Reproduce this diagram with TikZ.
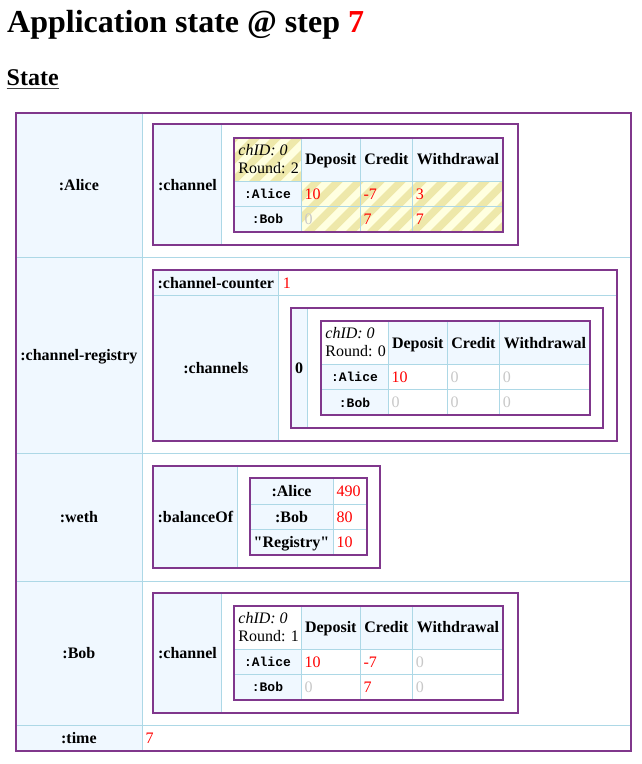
\documentclass[tikz,border=0pt]{standalone}
\usepackage{fontspec}
\setmainfont{Liberation Serif}
\setmonofont{Liberation Mono}
\definecolor{pur}{RGB}{128,55,140}
\definecolor{lb}{RGB}{173,216,230}
\definecolor{ab}{RGB}{240,248,255}
\definecolor{ly}{RGB}{255,255,224}
\definecolor{pg}{RGB}{238,232,170}
\definecolor{zg}{RGB}{200,200,200}
\definecolor{rd}{RGB}{255,0,0}
\tikzset{
 lbl/.style={font=\fontsize{16}{18}\selectfont\bfseries, inner sep=0pt, anchor=base},
 monol/.style={font=\fontsize{13}{15}\selectfont\ttfamily\bfseries, inner sep=0pt, anchor=base},
 redv/.style={font=\fontsize{16}{18}\selectfont, inner sep=0pt, anchor=base west, text=rd},
 greyv/.style={redv, text=zg},
 hdrtxt/.style={font=\fontsize{16}{18}\selectfont, inner sep=0pt, anchor=base west},
 purbox/.style={draw=pur, line width=2pt},
 gridl/.style={draw=lb, line width=1pt},
}
% #1 prefix, #2 x, #3 y, #4 round, #5 hatched, #6 Alice row, #7 Bob row
\newcommand\ChTab[7]{%
 \begin{scope}[shift={(#2,#3)}]
  \fill[ab] (0,0) rectangle (269.6,94.2);
  \fill[white] (0,0) rectangle (67.6,43.6);
  \fill[white] (67.6,43.6) rectangle (269.6,94.2);
  \ifnum#5=1
   \begin{scope}
    \clip (0,0) rectangle (67.6,43.6) (67.6,43.6) rectangle (269.6,94.2);
    \fill[ly] (0,0) rectangle (269.6,94.2);
    \foreach \k in {-120,-99,...,290} \draw[pg, line width=7.5pt] (\k,100) -- ++(120,-120);
   \end{scope}
  \fi
  \draw[gridl] (67.6,0) -- (67.6,94.2) (126.6,0) -- (126.6,94.2) (179,0) -- (179,94.2)
     (0,43.6) -- (269.6,43.6) (0,68.8) -- (269.6,68.8);
  \draw[purbox] (0,0) rectangle (269.6,94.2);
  \node[hdrtxt, font=\fontsize{16}{18}\selectfont\itshape] (#1-id) at (4.5,17.5) {chID: 0};
  \node[hdrtxt] (#1-round) at (4.5,35.8) {Round: #4};
  \node[lbl] (#1-dep) at (97.1,27.2) {Deposit};
  \node[lbl] (#1-cred) at (152.8,27.2) {Credit};
  \node[lbl] (#1-wd) at (224.3,27.2) {Withdrawal};
  \node[monol] (#1-ra) at (33.8,60.8) {:Alice};
  \node[monol] (#1-rb) at (33.8,86.1) {:Bob};
  \foreach \vx/\vs/\vt [count=\i] in {#6} \node[\vs] (#1-a\i) at (\vx,61.6) {\vt};
  \foreach \vx/\vs/\vt [count=\i] in {#7} \node[\vs] (#1-b\i) at (\vx,86.9) {\vt};
 \end{scope}}
\begin{document}
\begin{tikzpicture}[x=1pt,y=-1pt]
\useasboundingbox (0,0) rectangle (642,764);
\fill[white] (0,0) rectangle (642,764);
% headings
\node[anchor=base west, inner sep=0pt, font=\fontsize{32}{36}\selectfont\bfseries] (title) at (7,32.7) {Application state @ step {\color{rd}7}};
\node[anchor=base west, inner sep=0pt, font=\fontsize{24}{28}\selectfont\bfseries] (state) at (6.5,85) {State};
\draw[black!75, line width=1.3pt] ([yshift=-3.4pt]state.base west) -- ([yshift=-3.4pt]state.base east);
% outer table
\fill[ab] (15.8,112.8) rectangle (142,750.5);
\draw[gridl] (142,112.8) -- (142,750.5)
  (15.8,257) -- (630.5,257) (15.8,453.3) -- (630.5,453.3)
  (15.8,581) -- (630.5,581) (15.8,725.3) -- (630.5,725.3);
\draw[purbox] (15.8,112.8) rectangle (630.5,750.5);
\node[lbl] (lAlice) at (78.9,190) {:Alice};
\node[lbl] (lreg) at (78.9,360.5) {:channel-registry};
\node[lbl] (lweth) at (78.9,522.5) {:weth};
\node[lbl] (lBob) at (78.9,658.5) {:Bob};
\node[lbl] (ltime) at (78.9,743.3) {:time};
\node[redv] (vtime) at (145.5,743.3) {7};
% Alice
\fill[ab] (153.3,124.3) rectangle (221.7,245);
\draw[gridl] (221.7,124.3) -- (221.7,245);
\draw[purbox] (153.3,124.3) rectangle (517.7,245);
\node[lbl] (aChan) at (187.5,190) {:channel};
\ChTab{A}{233.7}{137.7}{2}{1}{70.6/redv/10,129.6/redv/-7,182/redv/3}{70.6/greyv/0,129.6/redv/7,182/redv/7}
% channel registry
\fill[ab] (153.3,269.7) rectangle (278.3,440.7);
\draw[gridl] (278.3,269.7) -- (278.3,440.7) (153.3,295.7) -- (617.3,295.7);
\draw[purbox] (153.3,269.7) rectangle (617.3,440.7);
\node[lbl] (rCounter) at (215.8,288.2) {:channel-counter};
\node[redv] (rCounterV) at (282.6,288.2) {1};
\node[lbl] (rChans) at (215.8,373.6) {:channels};
\fill[ab] (290.7,307.7) rectangle (307.3,427.7);
\draw[gridl] (307.3,307.7) -- (307.3,427.7);
\draw[purbox] (290.7,307.7) rectangle (603.3,427.7);
\node[lbl] (rZero) at (299,373.1) {0};
\ChTab{R}{320.7}{321}{0}{0}{70.6/redv/10,129.6/greyv/0,182/greyv/0}{70.6/greyv/0,129.6/greyv/0,182/greyv/0}
% weth
\fill[ab] (153.3,465.7) rectangle (237.3,567.7);
\draw[gridl] (237.3,465.7) -- (237.3,567.7);
\draw[purbox] (153.3,465.7) rectangle (380,567.7);
\node[lbl] (wBal) at (195.3,522.1) {:balanceOf};
\fill[ab] (249.7,478.3) rectangle (333.3,555);
\draw[gridl] (333.3,478.3) -- (333.3,555) (249.7,504.3) -- (366.7,504.3) (249.7,529.7) -- (366.7,529.7);
\draw[purbox] (249.7,478.3) rectangle (366.7,555);
\node[lbl] (wA) at (291.5,496.7) {:Alice};
\node[lbl] (wB) at (291.5,522.4) {:Bob};
\node[lbl] (wR) at (291.5,547.8) {\textquotedbl Registry\textquotedbl};
\node[redv] (wAv) at (336.4,496.7) {490};
\node[redv] (wBv) at (336.4,522.4) {80};
\node[redv] (wRv) at (336.4,547.8) {10};
% Bob
\fill[ab] (153.3,593.3) rectangle (221.7,713.3);
\draw[gridl] (221.7,593.3) -- (221.7,713.3);
\draw[purbox] (153.3,593.3) rectangle (517.7,713.3);
\node[lbl] (bChan) at (187.5,658.7) {:channel};
\ChTab{B}{233.7}{605.7}{1}{0}{70.6/redv/10,129.6/redv/-7,182/greyv/0}{70.6/greyv/0,129.6/redv/7,182/greyv/0}
\end{tikzpicture}
\end{document}
